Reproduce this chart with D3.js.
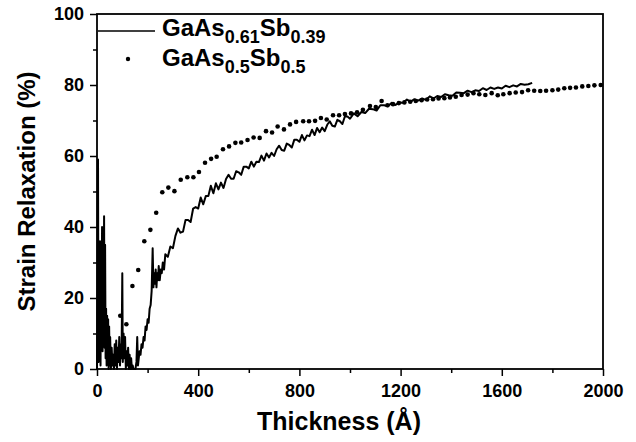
<!DOCTYPE html>
<html>
<head>
<meta charset="utf-8">
<script src="https://cdn.jsdelivr.net/npm/d3@7"></script>
<style>
  body { margin: 0; background: #fff; }
  svg { display: block; font-family: "Liberation Sans", Arial, sans-serif; font-weight: bold; }
</style>
</head>
<body>
<div class="chart"></div>
<script>
// thickness (A) vs strain relaxation (%)

var xTicks = [0, 400, 800, 1200, 1600, 2000];
var xMinorTicks = [200, 600, 1000, 1400, 1800];
var yTicks = [0, 20, 40, 60, 80, 100];
var yMinorTicks = [10, 30, 50, 70, 90];

// GaAs0.61Sb0.39 - noisy continuous trace
var gaas61 = [
  [0, 0], [2, 22], [4, 59], [6, 2], [8, 33], [10, 4], [12, 36], [14, 1], [16, 34], [18, 9],
  [20, 40], [22, 5], [24, 37], [26, 12], [28, 43], [30, 6], [32, 35], [34, 3], [36, 17], [38, 1],
  [40, 15], [42, 2], [44, 14], [46, 0], [48, 12], [50, 1], [52, 9], [55, 0], [58, 6], [61, 1],
  [64, 4], [67, 0], [70, 7], [73, 1], [76, 8], [79, 0], [82, 6], [85, 2], [88, 9], [91, 1],
  [94, 7], [97, 3], [100, 27], [102, 2], [105, 10], [108, 3], [111, 9], [114, 0], [117, 5], [120, 1],
  [123, 6], [126, 0], [129, 4], [132, 0], [135, 3], [138, 0], [141, 1], [144, 0], [148, 0], [152, 0],
  [156, 2], [159, 9], [162, 1], [165, 3], [168, 5], [172, 4], [176, 7], [180, 6], [184, 9], [188, 8],
  [192, 12], [196, 11], [200, 14], [204, 13], [208, 17], [212, 18], [216, 22], [220, 34], [223, 23], [226, 27],
  [229, 24], [232, 28], [235, 23], [238, 27], [241, 25], [244, 29], [248, 25], [252, 28], [256, 27], [260, 30],
  [265, 28], [270, 32.3], [280, 31.6], [290, 34.5], [300, 34.0], [310, 37.5], [320, 39.6], [330, 38.4], [340, 38.7], [350, 42.0],
  [360, 42.0], [370, 41.4], [380, 45.2], [390, 45.6], [400, 45.2], [410, 48.3], [420, 46.4], [430, 48.7], [440, 48.7], [450, 51.6],
  [460, 49.5], [470, 52.3], [480, 50.6], [490, 52.5], [500, 51.0], [510, 53.5], [520, 54.7], [530, 53.6], [540, 53.6], [550, 55.7],
  [560, 55.4], [570, 54.7], [580, 57.0], [590, 57.0], [600, 56.5], [610, 58.4], [620, 57.0], [630, 58.4], [640, 58.3], [650, 60.1],
  [660, 58.7], [670, 60.7], [680, 59.6], [690, 60.9], [700, 60.0], [710, 61.9], [720, 62.9], [730, 61.7], [740, 61.5], [750, 63.5],
  [760, 63.1], [770, 62.4], [780, 64.6], [790, 64.6], [800, 64.0], [810, 65.9], [820, 64.4], [830, 65.8], [840, 65.6], [850, 67.4],
  [860, 65.9], [870, 67.9], [880, 66.7], [890, 68.0], [900, 67.0], [910, 68.8], [920, 69.8], [930, 68.5], [940, 68.3], [950, 70.2],
  [960, 69.8], [970, 69.0], [980, 71.2], [990, 71.1], [1000, 70.5], [1015, 72.0], [1030, 71.2], [1045, 72.4], [1060, 72.1], [1075, 73.3],
  [1090, 73.2], [1105, 72.8], [1120, 74.3], [1135, 74.3], [1150, 74.0], [1165, 75.0], [1180, 74.4], [1195, 75.1], [1210, 75.0], [1225, 75.9],
  [1240, 75.3], [1255, 76.0], [1270, 75.6], [1285, 76.2], [1300, 75.8], [1315, 76.8], [1330, 76.2], [1345, 76.9], [1360, 76.6], [1375, 77.4],
  [1390, 77.1], [1405, 77.0], [1420, 77.9], [1435, 77.8], [1450, 77.7], [1465, 78.4], [1480, 78.0], [1495, 78.5], [1510, 78.3], [1525, 79.1],
  [1540, 78.6], [1555, 79.3], [1570, 78.9], [1585, 79.3], [1600, 79.0], [1615, 79.8], [1630, 79.4], [1645, 79.9], [1660, 79.6], [1675, 80.3],
  [1690, 80.1], [1705, 80.2], [1720, 80.6]
];

// GaAs0.5Sb0.5 - dots
var gaas50 = [
  [92, 15.0], [116, 12.6], [140, 23.4], [163, 27.9], [187, 36.0], [211, 39.2], [234, 44.0], [258, 49.8], [282, 51.1], [306, 50.1],
  [331, 53.3], [357, 54.0], [381, 54.0], [403, 55.5], [427, 58.1], [451, 59.2], [473, 59.8], [498, 61.9], [522, 62.7], [547, 63.7],
  [570, 63.8], [595, 64.5], [619, 65.2], [643, 65.1], [668, 67.0], [692, 66.6], [714, 68.3], [739, 67.5], [763, 68.9], [787, 69.6],
  [815, 69.8], [838, 69.8], [862, 69.9], [885, 70.7], [908, 70.3], [933, 71.5], [957, 71.5], [980, 71.8], [1004, 72.0], [1028, 72.3],
  [1051, 73.0], [1079, 74.1], [1102, 73.8], [1125, 75.5], [1148, 74.3], [1170, 74.6], [1193, 74.9], [1215, 75.1], [1238, 75.3], [1260, 75.5],
  [1283, 75.7], [1305, 75.9], [1328, 76.0], [1350, 76.2], [1373, 76.3], [1395, 76.5], [1418, 76.7], [1441, 77.2], [1465, 77.3], [1488, 77.7],
  [1511, 77.4], [1535, 77.2], [1560, 77.7], [1584, 77.1], [1606, 77.4], [1631, 77.7], [1655, 77.9], [1680, 78.0], [1704, 78.5], [1728, 78.4],
  [1752, 78.3], [1775, 78.4], [1800, 78.5], [1823, 78.7], [1847, 79.1], [1870, 79.2], [1893, 79.3], [1918, 79.6], [1942, 79.7], [1966, 79.9],
  [1991, 80.0]
];

var width = 636, height = 442;
var margin = {top: 14, right: 33, bottom: 73, left: 97};
var w = width - margin.left - margin.right;
var h = height - margin.top - margin.bottom;

var svg = d3.select('.chart').append('svg')
    .attr('width', width)
    .attr('height', height);

var g = svg.append('g')
    .attr('transform', 'translate(' + margin.left + ',' + margin.top + ')');

var x = d3.scaleLinear().domain([0, 2000]).range([0, w]);
var y = d3.scaleLinear().domain([0, 100]).range([h, 0]);

// minor ticks first, no labels
g.append('g')
    .attr('transform', 'translate(0,' + h + ')')
    .call(d3.axisBottom(x).tickValues(xMinorTicks).tickSize(4).tickFormat(''))
    .call(function(a) { a.select('.domain').remove(); });

g.append('g')
    .call(d3.axisLeft(y).tickValues(yMinorTicks).tickSize(4).tickFormat(''))
    .call(function(a) { a.select('.domain').remove(); });

var xAxis = g.append('g')
    .attr('transform', 'translate(0,' + h + ')')
    .call(d3.axisBottom(x).tickValues(xTicks).tickSize(7).tickPadding(8).tickFormat(d3.format('d')));
xAxis.select('.domain').remove();

var yAxis = g.append('g')
    .call(d3.axisLeft(y).tickValues(yTicks).tickSize(7).tickPadding(6).tickFormat(d3.format('d')));
yAxis.select('.domain').remove();

svg.selectAll('.tick text')
    .attr('font-family', '"Liberation Sans", Arial, sans-serif')
    .attr('font-weight', 'bold')
    .attr('font-size', 18)
    .attr('fill', '#000');
svg.selectAll('.tick line').attr('stroke', '#000').attr('stroke-width', 1.5);

// data
var line = d3.line()
    .x(function(d) { return x(d[0]); })
    .y(function(d) { return y(d[1]); });

g.append('path')
    .datum(gaas61)
    .attr('fill', 'none')
    .attr('stroke', '#000')
    .attr('stroke-width', 2)
    .attr('stroke-linejoin', 'round')
    .attr('d', line);

g.selectAll('.dot')
    .data(gaas50)
    .enter()
    .append('circle')
    .classed('dot', true)
    .attr('cx', function(d) { return x(d[0]); })
    .attr('cy', function(d) { return y(d[1]); })
    .attr('r', 2.3)
    .attr('fill', '#000');

// frame
g.append('rect')
    .attr('width', w)
    .attr('height', h)
    .attr('fill', 'none')
    .attr('stroke', '#000')
    .attr('stroke-width', 1.8);

// axis titles
svg.append('text')
    .attr('x', 339)
    .attr('y', 430)
    .attr('text-anchor', 'middle')
    .attr('font-size', 25)
    .text('Thickness (\u00C5)');

svg.append('text')
    .attr('transform', 'translate(35,' + (margin.top + h / 2) + ') rotate(-90)')
    .attr('text-anchor', 'middle')
    .attr('font-size', 24)
    .text('Strain Relaxation (%)');

// legend
var legend = svg.append('g');

legend.append('line')
    .attr('x1', 98).attr('x2', 155)
    .attr('y1', 31).attr('y2', 31)
    .attr('stroke', '#000')
    .attr('stroke-width', 1.3);

legend.append('circle')
    .attr('cx', 128).attr('cy', 59)
    .attr('r', 2.2)
    .attr('fill', '#000');

var names = [
  ['GaAs', '0.61', 'Sb', '0.39'],
  ['GaAs', '0.5', 'Sb', '0.5']
];

names.forEach(function(parts, i) {
  var t = legend.append('text')
      .attr('x', 162)
      .attr('y', 36 + i * 30)
      .attr('font-size', 24);
  t.append('tspan').text(parts[0]);
  t.append('tspan').attr('font-size', 18).attr('dy', 7).text(parts[1]);
  t.append('tspan').attr('dy', -7).text(parts[2]);
  t.append('tspan').attr('font-size', 18).attr('dy', 7).text(parts[3]);
});
</script>
</body>
</html>
